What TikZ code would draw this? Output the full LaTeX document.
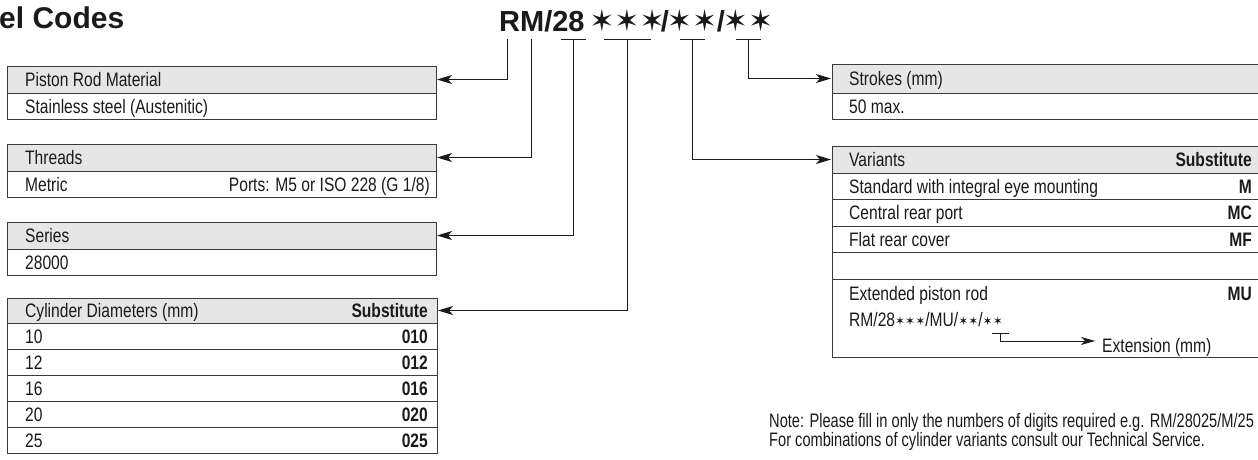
\documentclass[tikz,border=0pt]{standalone}
\usepackage{fontspec}
\setmainfont{Liberation Sans}
\newfontfamily\cond{Liberation Sans}[FakeStretch=0.80]
\newfontfamily\condn{Liberation Sans}[FakeStretch=0.75]
\newfontfamily\dv{DejaVu Sans}
\usetikzlibrary{arrows.meta,calc}
\definecolor{hdrgray}{HTML}{E6E6E6}
\definecolor{ink}{HTML}{1A1A1A}
\definecolor{rule}{HTML}{3A3A3A}
\newcommand{\bigstar}{{\dv\fontsize{30}{30}\selectfont ✶}}
\newcommand{\smst}{{\dv\fontsize{12}{12}\selectfont\raisebox{1pt}{✶}}}
\begin{document}
\begin{tikzpicture}[x=1pt,y=-1pt,
  cell/.style={draw=rule, line width=0.9pt, anchor=north west, inner sep=0, outer sep=0},
  hdr/.style={cell, fill=hdrgray},
  txt/.style={anchor=base west, inner sep=0, font=\cond\fontsize{19.5}{21}\selectfont, text=ink},
  btxt/.style={anchor=base east, inner sep=0, font=\cond\bfseries\fontsize{19.5}{21}\selectfont, text=ink},
  notetxt/.style={anchor=base west, inner sep=0, font=\condn\fontsize{19.5}{21}\selectfont, text=ink},
  code/.style={anchor=base, inner sep=0, font=\bfseries\fontsize{29}{30}\selectfont, text=ink},
  arr/.style={draw=ink, line width=1pt, -{Stealth[length=15pt,width=9pt,inset=4pt]}, shorten >=1pt},
  tickline/.style={draw=ink, line width=1pt},
]
\useasboundingbox (0,0) rectangle (1258,459);

% title
\node[anchor=base west, inner sep=0, font=\bfseries\fontsize{30}{32}\selectfont, text=ink] (title) at (-1,28) {el Codes};

% main code
\node[code, anchor=base west] (cRM) at (499,31) {RM/28};
\node[code] (s1) at (627,31) {\bigstar\bigstar\bigstar};
\node[code] (sl1) at (665,31) {/};
\node[code] (s2) at (692,31) {\bigstar\bigstar};
\node[code] (sl2) at (721,31) {/};
\node[code] (s3) at (748,31) {\bigstar\bigstar};
\coordinate (ty) at (0,39);
\coordinate (tR) at (507,39);
\coordinate (tM) at (531,39);
\coordinate (t28) at (573,39);

% ---------- left boxes ----------
% Piston rod material
\node[hdr, minimum width=429, minimum height=27] (pH) at (7,66) {};
\node[cell, minimum width=429, minimum height=26] (pB) at (7,93) {};
\node[txt] (pHt) at (25,86.5) {Piston Rod Material};
\node[txt] (pBt) at (25,113) {Stainless steel (Austenitic)};
% Threads
\node[hdr, minimum width=429, minimum height=27] (tH) at (7,144) {};
\node[cell, minimum width=429, minimum height=26] (tB) at (7,171) {};
\node[txt] (tHt) at (25,164.5) {Threads};
\node[txt] (tBt) at (25,191) {Metric};
\node[anchor=base east, inner sep=0, font=\cond\fontsize{19.5}{21}\selectfont, text=ink] (tBr) at (430,191) {Ports: M5 or ISO 228 (G 1/8)};
% Series
\node[hdr, minimum width=429, minimum height=27] (sH) at (7,222) {};
\node[cell, minimum width=429, minimum height=26] (sB) at (7,249) {};
\node[txt] (sHt) at (25,242.5) {Series};
\node[txt] (sBt) at (25,269) {28000};
% Cylinder diameters
\node[hdr, minimum width=430, minimum height=25] (cH) at (7,298) {};
\node[txt] (cHt) at (25,317.5) {Cylinder Diameters (mm)};
\node[btxt] (cHs) at (428,317.5) {Substitute};
\foreach \i/\d/\s in {0/10/010,1/12/012,2/16/016,3/20/020,4/25/025}{
  \node[cell, minimum width=430, minimum height=26] (cR\i) at (7,323+26*\i) {};
  \node[txt] (cRt\i) at (25,343+26*\i) {\d};
  \node[btxt] (cRs\i) at (428,343+26*\i) {\s};
}

% ---------- right boxes ----------
% Strokes
\node[hdr, minimum width=430, minimum height=29] (kH) at (832,64) {};
\node[cell, minimum width=430, minimum height=26] (kB) at (832,93) {};
\node[txt] (kHt) at (849,85.5) {Strokes (mm)};
\node[txt] (kBt) at (849,113) {50 max.};
% Variants
\node[hdr, minimum width=430, minimum height=27] (vH) at (832,146) {};
\node[txt] (vHt) at (849,166.5) {Variants};
\node[btxt] (vHs) at (1252,166.5) {Substitute};
\node[cell, minimum width=430, minimum height=26] (v1) at (832,173) {};
\node[txt] (v1t) at (849,193) {Standard with integral eye mounting};
\node[btxt] (v1s) at (1252,193) {M};
\node[cell, minimum width=430, minimum height=27] (v2) at (832,199) {};
\node[txt] (v2t) at (849,219.5) {Central rear port};
\node[btxt] (v2s) at (1252,219.5) {MC};
\node[cell, minimum width=430, minimum height=26] (v3) at (832,226) {};
\node[txt] (v3t) at (849,246) {Flat rear cover};
\node[btxt] (v3s) at (1252,246) {MF};
\node[cell, minimum width=430, minimum height=27] (v4) at (832,252) {};
\node[cell, minimum width=430, minimum height=78] (v5) at (832,279) {};
\node[txt] (v5t) at (849,300) {Extended piston rod};
\node[btxt] (v5s) at (1252,300) {MU};
\node[txt] (v5c) at (849,326.5) {RM/28\smst\smst\smst/MU/\smst\smst/\smst\smst};
\coordinate (eU) at (1000,333);
\node[txt] (ext) at (1102,352.5) {Extension (mm)};
\draw[tickline, line width=0.8pt] ($(eU)+(-8.5,0)$) -- ($(eU)+(8.5,0)$);
\draw[arr, line width=0.8pt, -{Stealth[length=14pt,width=8pt,inset=4pt]}] (eU) |- ($(ext.west)+(-6,-6.5)$);

% note
\node[notetxt] (n1) at (769,427.5) {Note: Please fill in only the numbers of digits required e.g. RM/28025/M/25};
\node[notetxt] (n2) at (769,446.5) {For combinations of cylinder variants consult our Technical Service.};

% ---------- ticks & connectors ----------
\draw[tickline] ($(t28)+(-12.5,0)$) -- ($(t28)+(12.5,0)$);
\draw[tickline] ($(s1.center|-ty)+(-23.5,0)$) -- ($(s1.center|-ty)+(23.5,0)$);
\draw[tickline] ($(s2.center|-ty)+(-12.5,0)$) -- ($(s2.center|-ty)+(12.5,0)$);
\draw[tickline] ($(s3.center|-ty)+(-12.5,0)$) -- ($(s3.center|-ty)+(12.5,0)$);
\draw[arr] (tR) |- (pH.east);
\draw[arr] (tM) |- (tH.east);
\draw[arr] (t28) |- (sH.east);
\draw[arr] (s1.center|-ty) |- (cH.east);
\draw[arr] (s2.center|-ty) |- (vH.west);
\draw[arr] (s3.center|-ty) |- (kH.west);
\end{tikzpicture}
\end{document}
